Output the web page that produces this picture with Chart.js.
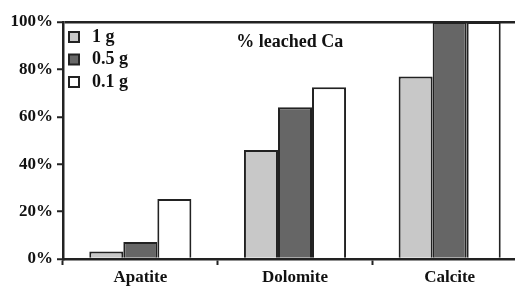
<!DOCTYPE html>
<html>
<head>
<meta charset="utf-8">
<script src="https://cdn.jsdelivr.net/npm/chart.js@4/dist/chart.umd.min.js"></script>
<style>
  html, body { margin: 0; padding: 0; background: #fff; overflow: hidden; }
  #wrap { position: relative; width: 527px; height: 300px; }
</style>
</head>
<body>
<div id="wrap"><canvas id="leachChart"></canvas></div>
<script>
// data
const minerals = ["Apatite", "Dolomite", "Calcite"];
const seriesNames = ["1 g", "0.5 g", "0.1 g"];
const leach1g = [3.2, 46, 77];
const leach05g = [7.2, 64, 100];
const leach01g = [25.3, 72.5, 100];
const yTicks = [0, 20, 40, 60, 80, 100];

const fills = ["#c8c8c8", "#666666", "#ffffff"];
const serif = "'Liberation Serif', 'DejaVu Serif', serif";

// legend and plot title both sit inside the plot area, top left / middle
const insideText = {
    id: "insideText",
    afterDraw(chart) {
        const { ctx, chartArea, scales } = chart;
        ctx.save();
        ctx.textBaseline = "middle";
        ctx.fillStyle = "#111";

        // legend
        ctx.font = "bold 18px " + serif;
        chart.data.datasets.forEach((ds, i) => {
            const cy = chartArea.top + 15 + i * 22.5;
            const bx = chartArea.left + 6;
            ctx.fillStyle = ds.backgroundColor;
            ctx.fillRect(bx, cy - 5, 10, 10);
            ctx.strokeStyle = "#222";
            ctx.lineWidth = 2;
            ctx.strokeRect(bx, cy - 5, 10, 10);
            ctx.fillStyle = "#111";
            ctx.textAlign = "left";
            ctx.fillText(ds.label, bx + 23, cy);
        });

        // title
        ctx.font = "bold 18px " + serif;
        ctx.textAlign = "center";
        const x = chartArea.left + (chartArea.right - chartArea.left) * 0.4885;
        ctx.fillText("% leached Ca", x, scales.y.getPixelForValue(91.5));
        ctx.restore();
    }
};

const allSeries = [leach1g, leach05g, leach01g];

new Chart(document.getElementById("leachChart"), {
    type: "bar",
    data: {
        labels: minerals,
        datasets: seriesNames.map((name, i) => ({
            label: name,
            data: allSeries[i],
            backgroundColor: fills[i],
            borderColor: "#222",
            borderWidth: 2,
            borderSkipped: "bottom",
            categoryPercentage: 0.66,
            barPercentage: 1.0
        }))
    },
    options: {
        responsive: true,
        maintainAspectRatio: false,
        animation: false,
        layout: { padding: { top: 22, right: 0, left: 0, bottom: 0 } },
        plugins: {
            legend: { display: false },
            title: { display: false },
            tooltip: { enabled: false }
        },
        scales: {
            x: {
                grid: {
                    offset: true,
                    drawOnChartArea: false,
                    tickLength: 6,
                    tickColor: "#222",
                    tickWidth: 2
                },
                border: { color: "#222", width: 2.5 },
                ticks: {
                    color: "#111",
                    padding: 2,
                    font: { family: serif, size: 17, weight: "bold" }
                },
                afterFit(scale) { scale.height = 41; }
            },
            y: {
                min: 0,
                max: 100,
                afterBuildTicks(scale) { scale.ticks = yTicks.map(v => ({ value: v })); },
                grid: {
                    color: ctx => ctx.tick && ctx.tick.value === 100 ? "#222" : "rgba(0,0,0,0)",
                    lineWidth: 2.5,
                    tickLength: 6,
                    tickColor: "#222",
                    tickWidth: 2
                },
                border: { color: "#222", width: 2.5 },
                ticks: {
                    color: "#111",
                    padding: 4,
                    font: { family: serif, size: 17, weight: "bold" },
                    callback: v => v + "%"
                },
                afterFit(scale) { scale.width = 63; }
            }
        }
    },
    plugins: [insideText]
});
</script>
</body>
</html>
